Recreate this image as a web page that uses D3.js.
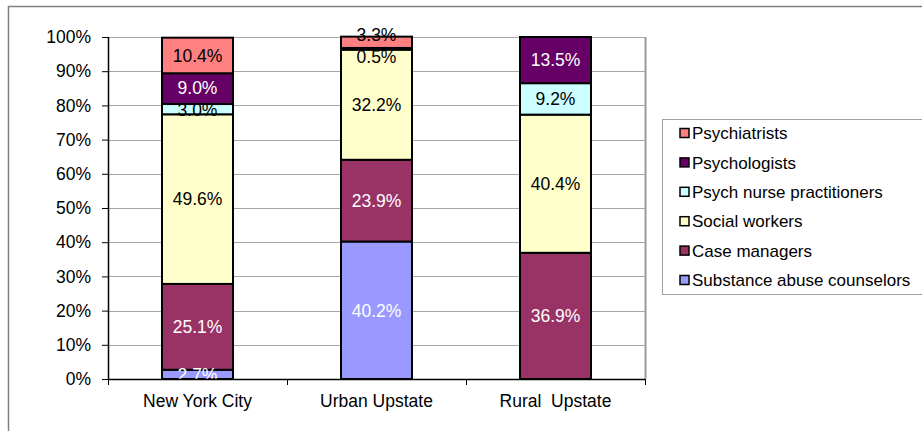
<!DOCTYPE html>
<html>
<head>
<meta charset="utf-8">
<script src="https://cdn.jsdelivr.net/npm/d3@7"></script>
<style>
  body { margin: 0; background: #fff; }
  svg { font-family: "Liberation Sans", Arial, sans-serif; }
</style>
</head>
<body>
<svg width="922" height="431"></svg>
<script>
// data (percent)
var regions = ["New York City", "Urban Upstate", "Rural  Upstate"];
var series = ["Substance abuse counselors", "Case managers", "Social workers",
              "Psych nurse practitioners", "Psychologists", "Psychiatrists"];
var substanceAbuse = [2.7, 40.2, 0];
var caseManagers   = [25.1, 23.9, 36.9];
var socialWorkers  = [49.6, 32.2, 40.4];
var psychNurse     = [3.0, 0.5, 9.2];
var psychologists  = [9.0, 0, 13.5];
var psychiatrists  = [10.4, 3.3, 0];
var yTicks = [0, 10, 20, 30, 40, 50, 60, 70, 80, 90, 100];

var colors = ["#9999ff", "#993366", "#ffffcc", "#ccffff", "#660066", "#ff8080"];
var labelColors = ["#fff", "#fff", "#000", "#000", "#fff", "#000"];

var values = [substanceAbuse, caseManagers, socialWorkers, psychNurse, psychologists, psychiatrists];

var table = regions.map(function(r, i) {
  var row = {region: r};
  series.forEach(function(s, j) { row[s] = values[j][i]; });
  return row;
});

var svg = d3.select("svg"),
    margin = {top: 37, right: 277, bottom: 52, left: 108},
    width = +svg.attr("width") - margin.left - margin.right,
    height = +svg.attr("height") - margin.top - margin.bottom;

// outer frame
svg.append("path")
  .attr("d", "M8.5,431 L8.5,6.5 L922,6.5")
  .attr("fill", "none")
  .attr("stroke", "#808080")
  .attr("stroke-width", 1.5);

var x = d3.scaleBand().domain(regions).range([0, width]).paddingInner(0).paddingOuter(0);
var y = d3.scaleLinear().domain([0, 100]).range([height, 0]);

var g = svg.append("g")
  .attr("transform", "translate(" + margin.left + "," + margin.top + ")");

// gridlines
g.selectAll(".grid")
  .data(yTicks.filter(function(d) { return d > 0; }))
  .enter().append("line")
  .attr("x1", 0).attr("x2", width)
  .attr("y1", function(d) { return Math.round(y(d)) + 0.5; })
  .attr("y2", function(d) { return Math.round(y(d)) + 0.5; })
  .attr("stroke", "#a6a6a6")
  .attr("stroke-width", 1.2);

// plot area right border
g.append("line")
  .attr("x1", width + 0.5).attr("x2", width + 0.5)
  .attr("y1", 0).attr("y2", height)
  .attr("stroke", "#9a9a9a")
  .attr("stroke-width", 2);

var stack = d3.stack().keys(series)(table);
var barW = 71;

var layer = g.selectAll(".layer")
  .data(stack)
  .enter().append("g")
  .attr("class", "layer");

layer.selectAll("rect")
  .data(function(d, i) { return d.map(function(p) { return {p: p, i: i}; }); })
  .enter().append("rect")
  .filter(function(d) { return d.p[1] - d.p[0] > 0; })
  .attr("x", function(d) { return x(d.p.data.region) + x.bandwidth() / 2 - barW / 2; })
  .attr("y", function(d) { return y(d.p[1]); })
  .attr("width", barW)
  .attr("height", function(d) { return y(d.p[0]) - y(d.p[1]); })
  .attr("fill", function(d) { return colors[d.i]; })
  .attr("stroke", "#000")
  .attr("stroke-width", 2);

// value labels, pushed apart when they collide inside a bar
regions.forEach(function(r, ri) {
  var labs = [];
  stack.forEach(function(s, si) {
    var p = s[ri];
    if (p[1] - p[0] > 0) {
      labs.push({text: (p[1] - p[0]).toFixed(1) + "%", y: y((p[0] + p[1]) / 2), c: labelColors[si]});
    }
  });
  for (var k = 1; k < labs.length; k++) {
    var gap = labs[k - 1].y - labs[k].y;
    if (gap < 22) {
      var mid = (labs[k - 1].y + labs[k].y) / 2;
      labs[k - 1].y = mid + 11;
      labs[k].y = mid - 11;
    }
  }
  g.selectAll(".lab" + ri)
    .data(labs)
    .enter().append("text")
    .attr("x", x(r) + x.bandwidth() / 2)
    .attr("y", function(d) { return d.y; })
    .attr("dy", "0.36em")
    .attr("text-anchor", "middle")
    .attr("font-size", "17.5px")
    .attr("fill", function(d) { return d.c; })
    .text(function(d) { return d.text; });
});

// y axis
var yAxis = g.append("g")
  .call(d3.axisLeft(y).tickValues(yTicks).tickSize(6).tickFormat(function(d) { return d + "%"; }));
yAxis.select(".domain").attr("stroke", "#000").attr("stroke-width", 1.5).attr("d", "M0.5,0V" + height);
yAxis.selectAll("text").attr("font-size", "17.5px").attr("font-family", "Liberation Sans, Arial, sans-serif")
  .attr("fill", "#000").attr("x", -17);
yAxis.selectAll("line").attr("stroke", "#000");

// x axis
var xAxis = g.append("g")
  .attr("transform", "translate(0," + height + ")")
  .call(d3.axisBottom(x).tickSize(0));
xAxis.select(".domain").attr("stroke", "#000").attr("stroke-width", 1.5).attr("d", "M0," + 0.5 + "H" + width);
xAxis.selectAll("text").attr("font-size", "17.5px").attr("font-family", "Liberation Sans, Arial, sans-serif")
  .attr("fill", "#000").attr("y", 16).attr("dy", "0.71em")
  .style("white-space", "pre").attr("xml:space", "preserve");

// boundary tick marks between categories
g.selectAll(".xtick")
  .data(d3.range(regions.length + 1))
  .enter().append("line")
  .attr("x1", function(d) { return d * x.step() + 0.5; })
  .attr("x2", function(d) { return d * x.step() + 0.5; })
  .attr("y1", height).attr("y2", height + 6)
  .attr("stroke", "#000");

// legend
var legend = svg.append("g").attr("transform", "translate(662,119)");
legend.append("rect")
  .attr("x", 0.5).attr("y", 0.5)
  .attr("width", 280).attr("height", 175)
  .attr("fill", "#fff")
  .attr("stroke", "#a0a0a0");

var order = series.slice().reverse();
var item = legend.selectAll(".item")
  .data(order)
  .enter().append("g")
  .attr("transform", function(d, i) { return "translate(0," + (14 + i * 29.4) + ")"; });
item.append("rect")
  .attr("x", 18).attr("y", -4.5)
  .attr("width", 9).attr("height", 9)
  .attr("fill", function(d) { return colors[series.indexOf(d)]; })
  .attr("stroke", "#000")
  .attr("stroke-width", 1.5);
item.append("text")
  .attr("x", 30)
  .attr("dy", "0.36em")
  .attr("font-size", "17px")
  .text(function(d) { return d; });
</script>
</body>
</html>
